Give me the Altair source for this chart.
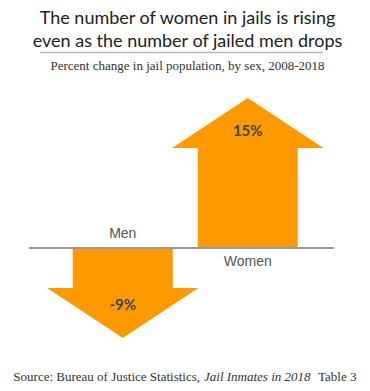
import altair as alt
import pandas as pd

# ---- data ----
sexes = ["Men", "Women"]
changes = [-9, 15]          # percent change 2008-2018
value_labels = ["-9%", "15%"]

title_lines = ["The number of women in jails is rising",
               "even as the number of jailed men drops"]
subtitle = "Percent change in jail population, by sex, 2008-2018"
source_a = "Source: Bureau of Justice Statistics,"
source_b = "Jail Inmates in 2018"
source_c = "Table 3"

ORANGE = "#ff9900"
HEAD = 5.0        # arrow head length (data units)
SHAFT_HW = 0.4    # shaft half width (x units)
HEAD_HW = 0.605   # head half width (x units)

rows, heads = [], []
for i, (s, v, lab) in enumerate(zip(sexes, changes, value_labels)):
    sign = 1 if v > 0 else -1
    base = v - sign * HEAD
    rows.append(dict(sex=s, c=i, x0=i - SHAFT_HW, x1=i + SHAFT_HW, y0=0, y1=base,
                     lab=lab, laby=v - sign * 3.3, caty=-sign * 1.4))
    heads += [dict(sex=s, x=i - HEAD_HW, y=base, yb=base),
              dict(sex=s, x=i, y=v, yb=base),
              dict(sex=s, x=i + HEAD_HW, y=base, yb=base)]
df = pd.DataFrame(rows)
hd = pd.DataFrame(heads)

W, H = 305, 270
XDOM = [-0.75, 1.69]
YDOM = [-10, 17]
xs = alt.Scale(domain=XDOM, nice=False, zero=False)
ys = alt.Scale(domain=YDOM, nice=False, zero=False)
X = lambda f: alt.X(f, type="quantitative", scale=xs, axis=None)
Y = lambda f: alt.Y(f, type="quantitative", scale=ys, axis=None)

shaft = alt.Chart(df).mark_rect(color=ORANGE).encode(
    x=X("x0"), x2="x1", y=Y("y0"), y2="y1")
head = alt.Chart(hd).mark_area(color=ORANGE, interpolate="linear").encode(
    x=X("x"), y=Y("y"), y2="yb", detail="sex:N")
base = alt.Chart(df).mark_rule(color="#999999", strokeWidth=2).encode(
    y=Y("y0"), x=alt.value(0), x2=alt.value(W))
vals = alt.Chart(df).mark_text(font="Lato", fontWeight="bold", fontSize=15,
                               color="#444444").encode(
    x=X("c"), y=Y("laby"), text="lab:N")
cats = alt.Chart(df).mark_text(font="Liberation Sans", fontSize=14,
                               color="#555555").encode(
    x=X("c"), y=Y("caty"), text="sex:N")

# separator line between title and subtitle (decoration)
sep_df = pd.DataFrame([dict(sy=YDOM[1] + 2.55, sx0=-0.662, sx1=1.602)])
sep = alt.Chart(sep_df).mark_rule(color="#b8b8b8", strokeWidth=1.3, clip=False).encode(
    y=Y("sy"), x=X("sx0"), x2="sx1")

one = df.head(1)
src_style = dict(font="Liberation Serif", fontSize=13, color="#333333",
                 baseline="middle")
src1 = alt.Chart(one).mark_text(align="right", text=source_a, **src_style).encode(
    x=alt.value(171), y=alt.value(299))
src2 = alt.Chart(one).mark_text(align="left", fontStyle="italic", text=source_b,
                                **src_style).encode(
    x=alt.value(175), y=alt.value(299))
src3 = alt.Chart(one).mark_text(align="left", text=source_c, **src_style).encode(
    x=alt.value(289), y=alt.value(299))

chart = alt.layer(shaft, head, base, vals, cats, sep, src1, src2, src3).properties(
    width=W, height=H,
    autosize=alt.AutoSizeParams(type="none"),
    padding={"left": 21, "top": 70, "right": 28, "bottom": 40},
    title=alt.TitleParams(
        text=title_lines, subtitle=subtitle, anchor="middle", dx=6,
        font="Lato", fontSize=18, fontWeight="normal", color="#222222",
        lineHeight=23,
        subtitleFont="Liberation Serif", subtitleFontSize=13,
        subtitleColor="#333333", subtitlePadding=9, offset=-21),
).configure_view(stroke=None)

chart.save("out.html", embed_options={"renderer": "svg", "actions": False})
